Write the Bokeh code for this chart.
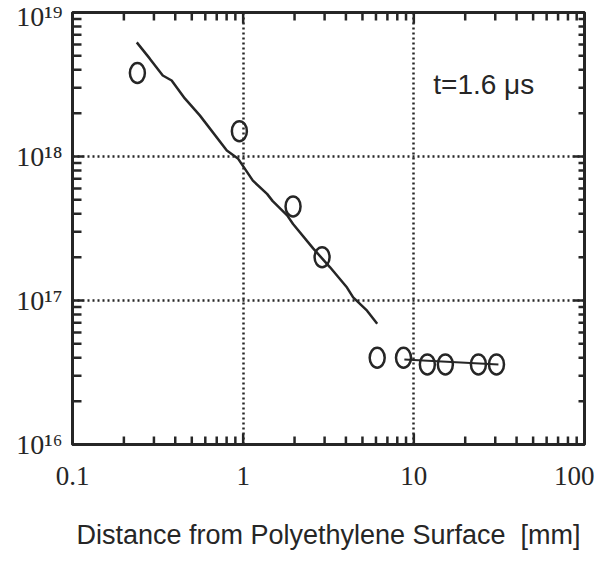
from bokeh.plotting import figure
from bokeh.models import FixedTicker, LogAxis, Range1d
from bokeh.embed import file_html
from bokeh.resources import INLINE
from bokeh.core.properties import value

# ---- data ----
pt_x = [0.24, 0.95, 1.96, 2.9, 6.1, 8.7, 12.0, 15.3, 23.9, 30.5]
pt_y = [3.8e18, 1.5e18, 4.5e17, 2.0e17, 4.0e16, 4.0e16, 3.6e16, 3.6e16, 3.6e16, 3.6e16]

fit1_x = [0.238, 0.283, 0.338, 0.381, 0.455, 0.557, 0.802, 0.931, 1.14, 1.38,
          1.49, 1.81, 1.96, 2.57, 3.23, 4.06, 4.41, 5.32, 6.10]
fit1_y = [6.2e18, 4.8e18, 3.65e18, 3.37e18, 2.53e18, 1.93e18, 1.10e18, 9.7e17, 6.8e17, 5.5e17,
          4.9e17, 3.9e17, 3.4e17, 2.3e17, 1.7e17, 1.23e17, 1.05e17, 8.5e16, 6.9e16]

fit2_x = [8.8, 31.3]
fit2_y = [3.9e16, 3.6e16]

x_ticks = [0.1, 1, 10, 100]
x_tick_labels = ["0.1", "1", "10", "100"]
y_ticks = [1e16, 1e17, 1e18, 1e19]
y_tick_labels = ["10\u00b9\u2076", "10\u00b9\u2077", "10\u00b9\u2078", "10\u00b9\u2079"]
x_grid = [1, 10]
y_grid = [1e17, 1e18]
note_text = ["t=1.6 \u03bcs"]
note_x = [13.0]
note_y = [3.15e18]
x_label = "Distance from Polyethylene Surface \u00a0[mm]"

INK = "#262626"
FW, FH = 512, 432

x_lo, x_hi = float(x_ticks[0]), float(x_ticks[-1])
y_lo, y_hi = float(y_ticks[0]), float(y_ticks[-1])
x_minor = [m * 10.0 ** k for k in range(-1, 2) for m in range(2, 10)]
y_minor = [m * 10.0 ** k for k in range(16, 19) for m in range(2, 10)]

p = figure(x_axis_type="log", y_axis_type="log",
           x_axis_location=None, y_axis_location=None,
           x_range=Range1d(x_lo, x_hi), y_range=Range1d(y_lo, y_hi),
           frame_width=FW, frame_height=FH,
           min_border_left=72, min_border_right=10, min_border_top=12, min_border_bottom=112,
           output_backend="svg", toolbar_location=None)

p.background_fill_color = "white"
p.border_fill_color = "white"
p.outline_line_color = INK
p.outline_line_width = 3


def make_axis(ticks):
    ax = LogAxis()
    ax.ticker = FixedTicker(ticks=ticks)
    ax.axis_line_color = INK
    ax.axis_line_width = 3
    ax.major_tick_in = 0
    ax.major_tick_out = 0
    ax.minor_tick_in = 0
    ax.minor_tick_out = 0
    return ax


def hide_labels(ax):
    ax.major_label_text_font_size = "2px"
    ax.major_label_text_alpha = 0
    ax.major_label_standoff = 0


xa = make_axis(x_ticks)
xa.major_label_overrides = {t: l for t, l in zip(x_ticks, x_tick_labels)}
xa.major_label_text_font = "Liberation Serif"
xa.major_label_text_font_size = "27px"
xa.major_label_text_color = INK
xa.major_label_standoff = 22
xa.axis_label = x_label
xa.axis_label_text_font = "Liberation Sans"
xa.axis_label_text_font_size = "27px"
xa.axis_label_text_font_style = "normal"
xa.axis_label_text_color = INK
xa.axis_label_standoff = 32
p.add_layout(xa, "below")

ya = make_axis(y_ticks)
ya.major_label_overrides = {t: l for t, l in zip(y_ticks, y_tick_labels)}
ya.major_label_text_font = "Liberation Serif"
ya.major_label_text_font_size = "28px"
ya.major_label_text_color = INK
ya.major_label_standoff = 10
p.add_layout(ya, "left")

top = make_axis(x_ticks)
hide_labels(top)
p.add_layout(top, "above")

right = make_axis(y_ticks)
hide_labels(right)
p.add_layout(right, "right")

p.xgrid.ticker = FixedTicker(ticks=x_grid)
p.ygrid.ticker = FixedTicker(ticks=y_grid)
for g in (p.xgrid, p.ygrid):
    g.grid_line_color = INK
    g.grid_line_width = 2.5
    g.grid_line_dash = "2 3"

# inward tick marks: short segments starting a little outside each frame edge
x_per_px = (x_hi / x_lo) ** (1.0 / FW)
y_per_px = (y_hi / y_lo) ** (1.0 / FH)
xm_in = [v for v in x_minor if x_lo < v < x_hi]
ym_in = [v for v in y_minor if y_lo < v < y_hi]
xM_in = [v for v in x_ticks if x_lo < v < x_hi]
yM_in = [v for v in y_ticks if y_lo < v < y_hi]

tx0, tx1, ty0, ty1 = [], [], [], []


def add_v(xs, length):
    for v in xs:
        tx0.append(v); tx1.append(v)
        ty0.append(y_lo / y_per_px ** 3); ty1.append(y_lo * y_per_px ** length)
        tx0.append(v); tx1.append(v)
        ty0.append(y_hi * y_per_px ** 3); ty1.append(y_hi / y_per_px ** length)


def add_h(ys, left_len, right_len):
    for v in ys:
        ty0.append(v); ty1.append(v)
        tx0.append(x_lo / x_per_px ** 3); tx1.append(x_lo * x_per_px ** left_len)
        ty0.append(v); ty1.append(v)
        tx0.append(x_hi * x_per_px ** 3); tx1.append(x_hi / x_per_px ** right_len)


add_v(xm_in, 8)
add_v(xM_in, 11)
add_h(ym_in, 9, 6)
add_h(yM_in, 11, 11)

p.segment(x0=tx0, y0=ty0, x1=tx1, y1=ty1, line_color=INK, line_width=2.5)

p.line(fit1_x, fit1_y, line_color=INK, line_width=2.5)
p.line(fit2_x, fit2_y, line_color=INK, line_width=2)
p.ellipse(pt_x, pt_y, width=15, height=20, width_units="screen", height_units="screen",
          fill_color=None, line_color=INK, line_width=2.5)

p.text(note_x, note_y, text=note_text, text_font=value("Liberation Sans"),
       text_font_size="28px", text_color=INK, text_align="left", text_baseline="alphabetic")

open("out.html", "w").write(file_html(p, INLINE))
